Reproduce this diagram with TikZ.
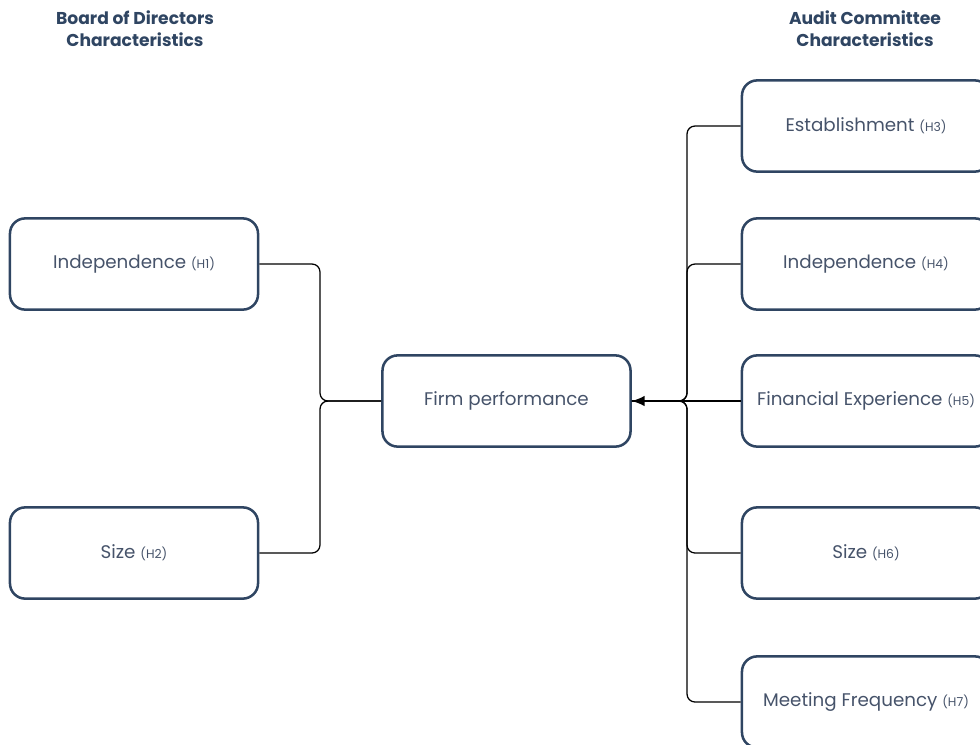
\documentclass[tikz,border=0pt]{standalone}
\usepackage{fontspec}
\setmainfont{Poppins}
\usetikzlibrary{arrows.meta}
\definecolor{navy}{HTML}{2F4562}
\definecolor{inktext}{HTML}{46536A}
\begin{document}
\begin{tikzpicture}[x=0.025cm,y=-0.025cm,
  factor/.style={draw=navy,line width=1.8pt,rounded corners=0.38cm,minimum width=6.2cm,minimum height=2.28cm,text=inktext,font=\fontsize{13}{15}\selectfont},
  link/.style={draw=black,line width=0.9pt,rounded corners=0.2cm},
  heading/.style={align=center,text=navy,font=\bfseries\fontsize{12.2}{15.5}\selectfont}]
\newcommand\hyp[1]{{\fontsize{8.8}{10}\selectfont(#1)}}
\useasboundingbox (0,0) rectangle (980,744);
\clip (0,0) rectangle (980,744);
% headings
\node[heading] (board) at (135,29) {Board of Directors\\Characteristics};
\node[heading] (audit) at (865,29) {Audit Committee\\Characteristics};
% board side
\node[factor] (bind) at (134,264) {Independence \hyp{H1}};
\node[factor] (bsize) at (134,553) {Size \hyp{H2}};
% outcome
\node[factor] (firm) at (506.5,401) {Firm performance};
% audit side
\node[factor] (aest) at (866,126) {Establishment \hyp{H3}};
\node[factor] (aind) at (866,264) {Independence \hyp{H4}};
\node[factor] (afin) at (866,401) {Financial Experience \hyp{H5}};
\node[factor] (asize) at (866,553) {Size \hyp{H6}};
\node[factor] (ameet) at (866,702) {Meeting Frequency \hyp{H7}};
\coordinate (jl) at (320,401);
\coordinate (jr) at (687,401);
\draw[link] (bind.east) -| (jl) -- (firm.west);
\draw[link] (bsize.east) -| (jl) -- (firm.west);
\foreach \f in {aest,aind,asize,ameet}
  \draw[link] (\f.west) -| (jr) -- (firm.east);
\draw[link,-{Latex[length=3.2mm,width=2.6mm]}] (afin.west) -- (firm.east);
\end{tikzpicture}
\end{document}
